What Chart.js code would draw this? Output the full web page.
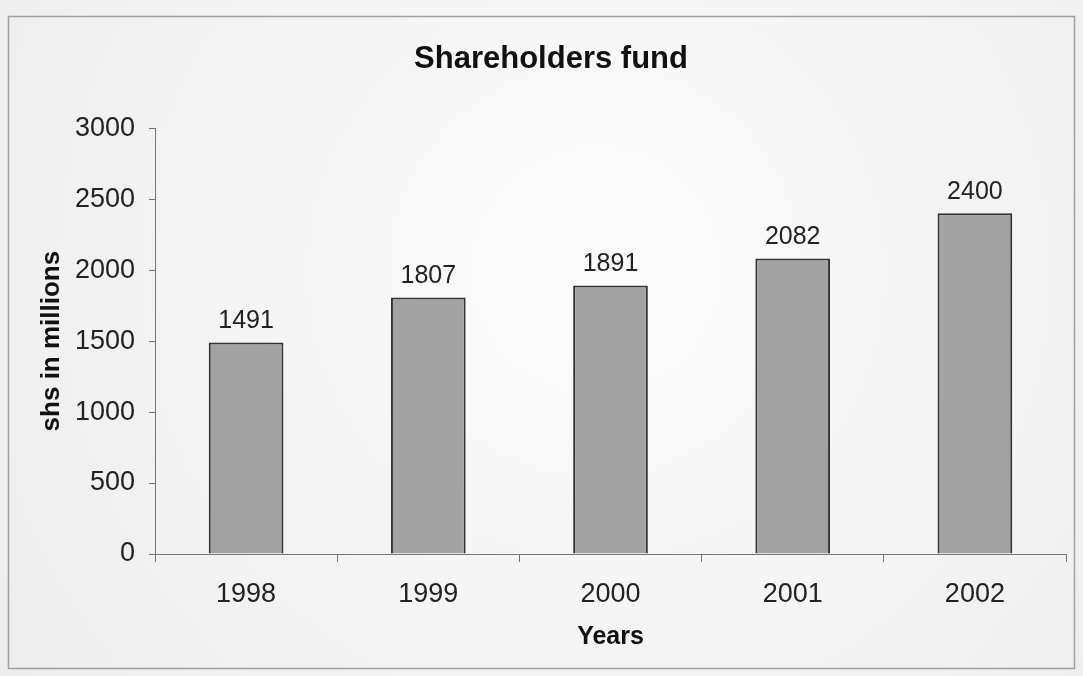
<!DOCTYPE html>
<html>
<head>
<meta charset="utf-8">
<script src="https://cdn.jsdelivr.net/npm/chart.js@4"></script>
<style>
    html, body { margin: 0; padding: 0; background: #f2f2f2; }
    #wrap { width: 1083px; height: 676px; position: relative; }
</style>
</head>
<body>
<div id="wrap"><canvas id="grafico"></canvas></div>
<script>
const anios = ['1998', '1999', '2000', '2001', '2002'];
const fondos = [1491, 1807, 1891, 2082, 2400];
const tituloGrafico = 'Shareholders fund';
const tituloY = 'shs in millions';
const tituloX = 'Years';

const fuente = "'Liberation Sans', Arial, sans-serif";

// fondo tipo papel escaneado y marco
const fondoPlugin = {
    id: 'fondo',
    beforeDraw(chart) {
        const ctx = chart.ctx;
        const w = chart.width, h = chart.height;
        ctx.save();
        const g = ctx.createRadialGradient(w * 0.55, h * 0.4, 50, w * 0.55, h * 0.4, w * 0.7);
        g.addColorStop(0, '#fbfbfb');
        g.addColorStop(1, '#ececec');
        ctx.fillStyle = g;
        ctx.fillRect(0, 0, w, h);
        ctx.strokeStyle = '#a0a0a0';
        ctx.lineWidth = 1.5;
        ctx.strokeRect(8.5, 16.5, w - 17, h - 24);
        ctx.restore();
    }
};

// etiquetas de valor sobre cada barra
const etiquetasPlugin = {
    id: 'etiquetas',
    afterDatasetsDraw(chart) {
        const ctx = chart.ctx;
        const meta = chart.getDatasetMeta(0);
        ctx.save();
        ctx.font = '25px ' + fuente;
        ctx.fillStyle = '#222';
        ctx.textAlign = 'center';
        ctx.textBaseline = 'bottom';
        meta.data.forEach((barra, i) => {
            ctx.fillText(chart.data.datasets[0].data[i], barra.x, barra.y - 9);
        });
        ctx.restore();
    }
};

new Chart(document.getElementById('grafico'), {
    type: 'bar',
    data: {
        labels: anios,
        datasets: [{
            data: fondos,
            backgroundColor: '#a2a2a2',
            borderColor: '#333',
            borderWidth: 2,
            categoryPercentage: 1,
            barPercentage: 0.41
        }]
    },
    options: {
        responsive: true,
        maintainAspectRatio: false,
        animation: false,
        layout: {
            padding: { left: 36, right: 17, top: 28, bottom: 24 }
        },
        plugins: {
            legend: { display: false },
            tooltip: { enabled: false },
            title: {
                display: true,
                text: tituloGrafico,
                color: '#111',
                font: { family: fuente, size: 31, weight: 'bold' },
                padding: { top: 13, bottom: 50 }
            }
        },
        scales: {
            x: {
                offset: true,
                afterFit: escala => { escala.height = 98; },
                grid: {
                    offset: true,
                    drawOnChartArea: false,
                    drawTicks: true,
                    tickLength: 8,
                    color: '#777'
                },
                border: { display: true, color: '#777', width: 1 },
                ticks: {
                    color: '#222',
                    font: { family: fuente, size: 27 },
                    padding: 16
                },
                title: {
                    display: true,
                    text: tituloX,
                    color: '#111',
                    font: { family: fuente, size: 25, weight: 'bold' },
                    padding: { top: 1, bottom: 0 }
                }
            },
            y: {
                min: 0,
                max: 3000,
                afterFit: escala => { escala.width = 119; },
                ticks: {
                    stepSize: 500,
                    color: '#222',
                    font: { family: fuente, size: 27 },
                    padding: 14,
                    callback: v => String(v)
                },
                grid: {
                    drawOnChartArea: false,
                    drawTicks: true,
                    tickLength: 6,
                    color: '#777'
                },
                border: { display: true, color: '#777', width: 1 },
                title: {
                    display: true,
                    text: tituloY,
                    color: '#111',
                    font: { family: fuente, size: 26, weight: 'bold' },
                    padding: { top: 0, bottom: 8 }
                }
            }
        }
    },
    plugins: [fondoPlugin, etiquetasPlugin]
});
</script>
</body>
</html>
